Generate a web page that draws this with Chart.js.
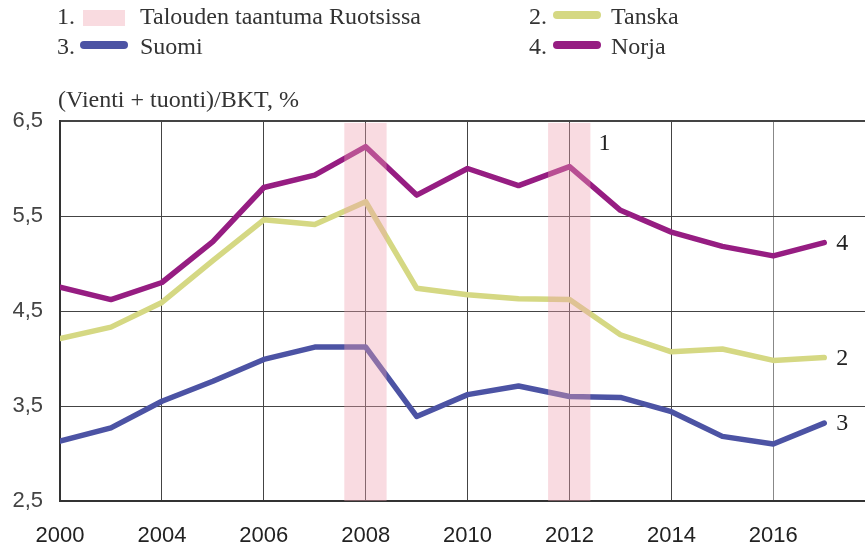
<!DOCTYPE html>
<html>
<head>
<meta charset="utf-8">
<script src="https://cdn.jsdelivr.net/npm/chart.js@4.4.1/dist/chart.umd.min.js"></script>
<style>
  body { margin: 0; background: #fff; }
  #wrap { width: 865px; height: 549px; }
</style>
</head>
<body>
<div id="wrap"><canvas id="chart"></canvas></div>
<script>
// data
const years = [2002, 2003, 2004, 2005, 2006, 2007, 2008, 2009, 2010, 2011, 2012, 2013, 2014, 2015, 2016, 2017];
const tanska = [4.21, 4.33, 4.59, 5.03, 5.46, 5.41, 5.65, 4.74, 4.67, 4.63, 4.62, 4.25, 4.07, 4.10, 3.98, 4.01];
const suomi = [3.13, 3.27, 3.55, 3.76, 3.99, 4.12, 4.12, 3.39, 3.62, 3.71, 3.60, 3.59, 3.44, 3.18, 3.10, 3.32];
const norja = [4.75, 4.62, 4.80, 5.23, 5.80, 5.93, 6.23, 5.72, 6.00, 5.82, 6.02, 5.56, 5.33, 5.18, 5.08, 5.22];
const recessionYears = [2008, 2012];
// the source labels its first tick "2000"
const xTickLabels = { 2002: "2000", 2004: "2004", 2006: "2006", 2008: "2008", 2010: "2010", 2012: "2012", 2014: "2014", 2016: "2016" };
const yTickLabels = ["2,5", "3,5", "4,5", "5,5", "6,5"];
const yTicks = [2.5, 3.5, 4.5, 5.5, 6.5];

const serif = "'Liberation Serif', 'DejaVu Serif', serif";
const sans = "'Liberation Sans', Arial, sans-serif";

const series = [
  { num: "2.", name: "Tanska", values: tanska, color: "#d5d883", endLabel: "2" },
  { num: "3.", name: "Suomi", values: suomi, color: "#4c53a4", endLabel: "3" },
  { num: "4.", name: "Norja", values: norja, color: "#961d82", endLabel: "4" },
];
const bandColor = "rgba(240,160,175,0.38)";

// recession bands, end labels, legend and axis title
const extras = {
  id: "extras",
  afterDatasetsDraw(chart) {
    const ctx = chart.ctx;
    const x = chart.scales.x;
    const y = chart.scales.y;
    ctx.save();
    ctx.fillStyle = bandColor;
    recessionYears.forEach((yr) => {
      const l = x.getPixelForValue(yr - 0.42);
      const r = x.getPixelForValue(yr + 0.41);
      const t = y.getPixelForValue(6.48);
      const b = y.getPixelForValue(2.5);
      ctx.fillRect(l, t, r - l, b - t);
    });
    ctx.restore();
  },
  afterDraw(chart) {
    const ctx = chart.ctx;
    const x = chart.scales.x;
    const y = chart.scales.y;
    ctx.save();
    ctx.fillStyle = "#222";
    ctx.textBaseline = "middle";
    ctx.font = "24px " + serif;

    // end labels
    const last = years.length - 1;
    series.forEach((s) => {
      ctx.fillText(s.endLabel, x.getPixelForValue(years[last]) + 12, y.getPixelForValue(s.values[last]) + 1);
    });
    ctx.fillText("1", x.getPixelForValue(recessionYears[1]) + 29, y.getPixelForValue(6.26));

    // axis title
    ctx.fillStyle = "#333";
    ctx.fillText("(Vienti + tuonti)/BKT, %", 58, 101);

    // legend
    ctx.fillText("1.", 57, 18);
    ctx.fillStyle = "#f9dbe0";
    ctx.fillRect(83, 10, 42, 16);
    ctx.fillStyle = "#333";
    ctx.fillText("Talouden taantuma Ruotsissa", 140, 18);

    const pos = [[529, 18], [57, 48], [529, 48]];
    series.forEach((s, i) => {
      const [lx, ly] = pos[i];
      const sx = i === 1 ? lx + 27 : lx + 28;
      ctx.fillStyle = "#333";
      ctx.fillText(s.num, lx, ly);
      ctx.strokeStyle = s.color;
      ctx.lineWidth = 8;
      ctx.lineCap = "round";
      ctx.beginPath();
      ctx.moveTo(sx, ly - 3);
      ctx.lineTo(sx + 40, ly - 3);
      ctx.stroke();
      ctx.fillStyle = "#333";
      ctx.fillText(s.name, i === 1 ? 140 : lx + 82, ly);
    });
    ctx.restore();
  },
};

new Chart(document.getElementById("chart"), {
  type: "line",
  data: {
    datasets: series.map((s) => ({
      label: s.name,
      data: years.map((yr, i) => ({ x: yr, y: s.values[i] })),
      borderColor: s.color,
      borderWidth: 5.5,
      borderCapStyle: "round",
      borderJoinStyle: "round",
      pointRadius: 0,
      tension: 0,
      fill: false,
    })),
  },
  options: {
    responsive: true,
    maintainAspectRatio: false,
    animation: false,
    layout: { padding: { top: 121, right: 0, left: 0, bottom: 0 } },
    plugins: { legend: { display: false }, tooltip: { enabled: false } },
    scales: {
      x: {
        type: "linear",
        min: 2002,
        max: 2017.8,
        afterBuildTicks: (scale) => {
          scale.ticks = scale.ticks.filter((t) => xTickLabels[t.value] !== undefined);
        },
        afterFit: (scale) => { scale.height = 48; },
        ticks: {
          stepSize: 2,
          includeBounds: false,
          maxRotation: 0,
          autoSkip: false,
          padding: 22,
          color: "#222",
          font: { family: sans, size: 22 },
          callback: (v) => xTickLabels[v],
        },
        grid: {
          color: (c) => (c.tick && c.tick.value === 2016 ? "#888" : "#444"),
          lineWidth: 1,
          drawTicks: false,
        },
        border: { color: "#333", width: 2 },
      },
      y: {
        min: 2.5,
        max: 6.5,
        afterBuildTicks: (scale) => {
          scale.ticks = yTicks.map((v) => ({ value: v }));
        },
        afterFit: (scale) => { scale.width = 60; },
        ticks: {
          padding: 17,
          color: "#444",
          font: { family: sans, size: 22 },
          callback: (v) => yTickLabels[yTicks.indexOf(v)],
        },
        grid: {
          color: "#444",
          lineWidth: (c) => (c.tick && c.tick.value === 6.5 ? 2 : 1),
          drawTicks: false,
        },
        border: { color: "#333", width: 2 },
      },
    },
  },
  plugins: [extras],
});
</script>
</body>
</html>
